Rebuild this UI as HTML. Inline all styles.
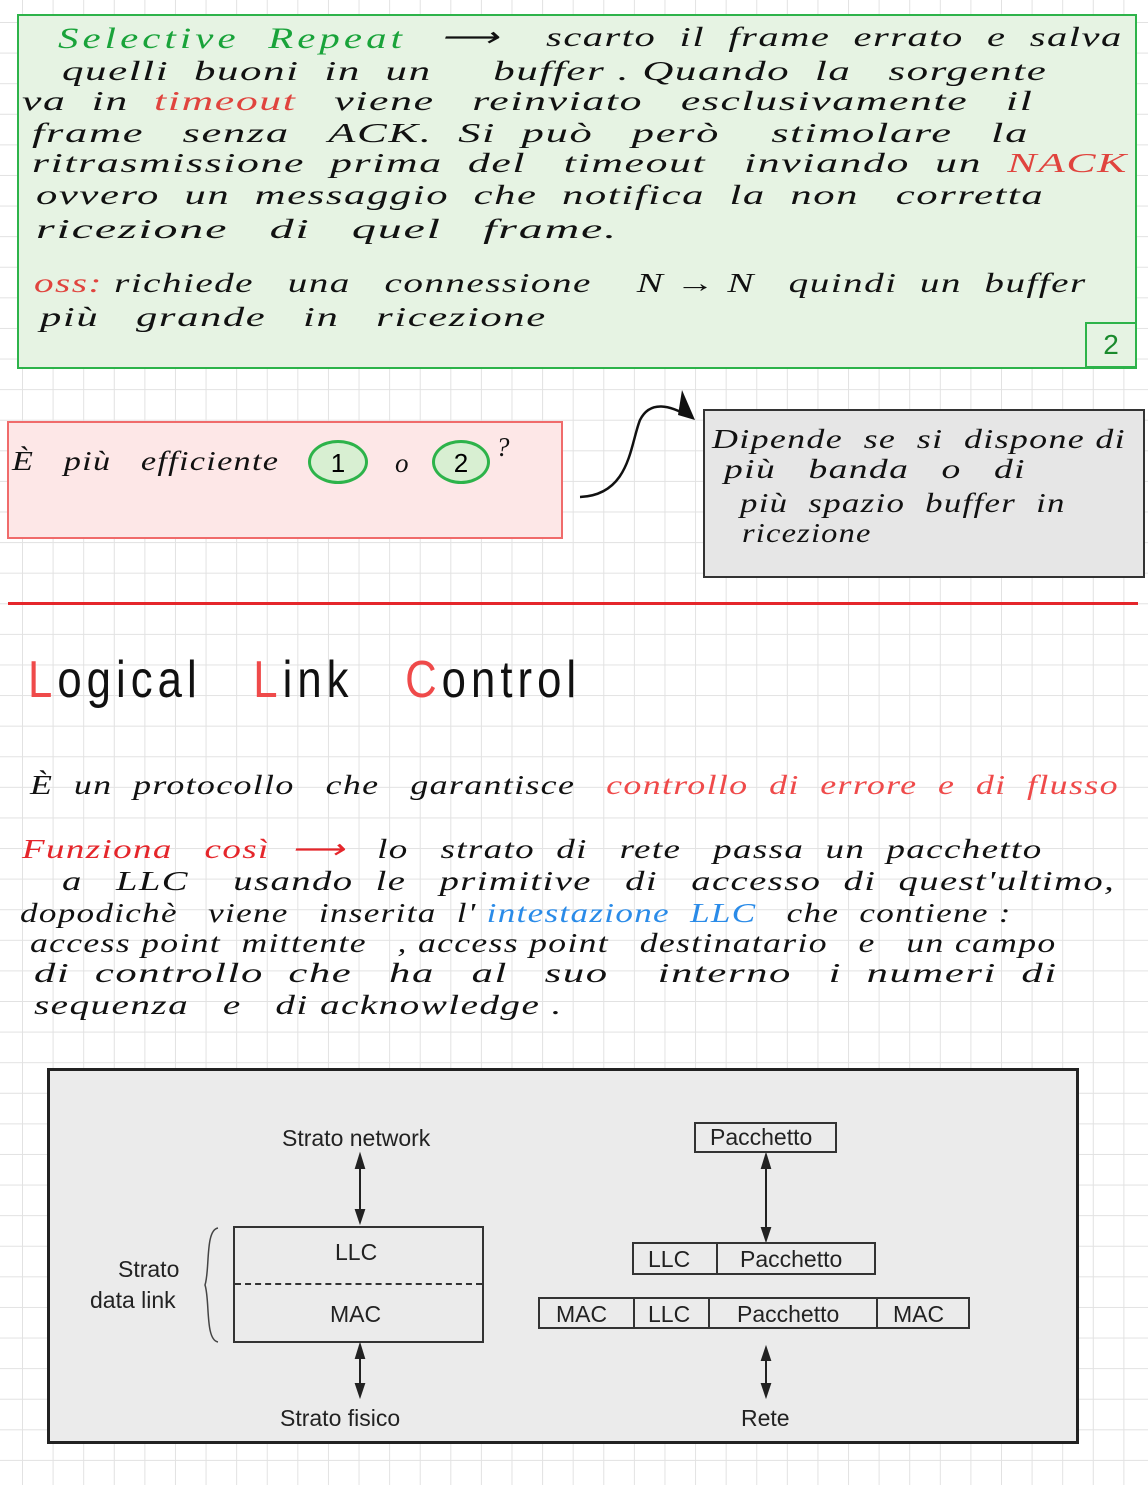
<!DOCTYPE html>
<html><head><meta charset="utf-8"><style>
html,body{margin:0;padding:0}
body{width:1148px;height:1485px;position:relative;overflow:hidden;background-color:#fff;
background-image:linear-gradient(to right,#e2e2e2 1px,transparent 1px),linear-gradient(to bottom,#e2e2e2 1px,transparent 1px);
background-size:30.6px 30.6px;background-position:22px 22px;font-family:"Liberation Sans",sans-serif}
.a{position:absolute}
.h{position:absolute;font-family:"Liberation Serif",serif;font-style:italic;font-size:27px;color:#111;white-space:nowrap;letter-spacing:1px;transform-origin:0 0}
.d{position:absolute;font-size:23px;color:#222;white-space:nowrap}
.bx{position:absolute;border:2px solid #333;box-sizing:border-box}
</style></head><body>
<!-- green box -->
<div class="a" style="left:17px;top:14px;width:1120px;height:355px;background:#e6f3e3;border:2px solid #2db34a;box-sizing:border-box"></div>
<div class="a" style="left:1085px;top:322px;width:52px;height:46px;border:2px solid #2db34a;box-sizing:border-box;color:#1a8a2d;font-size:28px;text-align:center;line-height:42px">2</div>
<div class="h" style="left:58px;top:22px;color:#19a33a;font-size:30px;letter-spacing:3px;transform:scaleX(1.36)">Selective&nbsp;&nbsp;Repeat</div>
<div class="h" style="left:440px;top:22px;transform:scaleX(1.5)">⟶&nbsp;&nbsp;&nbsp;&nbsp;scarto&nbsp;&nbsp;il&nbsp;&nbsp;frame&nbsp;&nbsp;errato&nbsp;&nbsp;e&nbsp;&nbsp;salva</div>
<div class="h" style="left:62px;top:56px;transform:scaleX(1.59)">quelli&nbsp;&nbsp;buoni&nbsp;&nbsp;in&nbsp;&nbsp;un&nbsp;&nbsp;&nbsp;&nbsp;&nbsp;buffer . Quando&nbsp;&nbsp;la&nbsp;&nbsp;&nbsp;sorgente</div>
<div class="h" style="left:22px;top:86px;transform:scaleX(1.62)">va&nbsp;&nbsp;in&nbsp;&nbsp;<span style="color:#e0443e">timeout</span>&nbsp;&nbsp;&nbsp;viene&nbsp;&nbsp;&nbsp;reinviato&nbsp;&nbsp;&nbsp;esclusivamente&nbsp;&nbsp;&nbsp;il</div>
<div class="h" style="left:32px;top:118px;transform:scaleX(1.65)">frame&nbsp;&nbsp;&nbsp;senza&nbsp;&nbsp;&nbsp;ACK.&nbsp;&nbsp;Si&nbsp;&nbsp;può&nbsp;&nbsp;&nbsp;però&nbsp;&nbsp;&nbsp;&nbsp;stimolare&nbsp;&nbsp;&nbsp;la</div>
<div class="h" style="left:32px;top:148px;transform:scaleX(1.62)">ritrasmissione&nbsp;&nbsp;prima&nbsp;&nbsp;del&nbsp;&nbsp;&nbsp;timeout&nbsp;&nbsp;&nbsp;inviando&nbsp;&nbsp;un&nbsp;&nbsp;<span style="color:#e0443e">NACK</span></div>
<div class="h" style="left:36px;top:180px;transform:scaleX(1.58)">ovvero&nbsp;&nbsp;un&nbsp;&nbsp;messaggio&nbsp;&nbsp;che&nbsp;&nbsp;notifica&nbsp;&nbsp;la&nbsp;&nbsp;non&nbsp;&nbsp;&nbsp;corretta</div>
<div class="h" style="left:36px;top:214px;transform:scaleX(1.78)">ricezione&nbsp;&nbsp;&nbsp;di&nbsp;&nbsp;&nbsp;quel&nbsp;&nbsp;&nbsp;frame.</div>
<div class="h" style="left:34px;top:268px;transform:scaleX(1.45)"><span style="color:#e0443e">oss:</span>&nbsp;richiede&nbsp;&nbsp;&nbsp;una&nbsp;&nbsp;&nbsp;connessione&nbsp;&nbsp;&nbsp;&nbsp;N → N&nbsp;&nbsp;&nbsp;quindi&nbsp;&nbsp;un&nbsp;&nbsp;buffer</div>
<div class="h" style="left:40px;top:302px;transform:scaleX(1.58)">più&nbsp;&nbsp;&nbsp;grande&nbsp;&nbsp;&nbsp;in&nbsp;&nbsp;&nbsp;ricezione</div>

<!-- red box -->
<div class="a" style="left:7px;top:421px;width:556px;height:118px;background:#fde7e7;border:2px solid #f06b6b;box-sizing:border-box"></div>
<div class="h" style="left:12px;top:446px;transform:scaleX(1.27)">È&nbsp;&nbsp;&nbsp;più&nbsp;&nbsp;&nbsp;efficiente</div>
<div class="a" style="left:308px;top:440px;width:60px;height:44px;border:3px solid #2db34a;border-radius:50%;background:#d8efd2;font-size:26px;text-align:center;line-height:40px;box-sizing:border-box">1</div>
<div class="h" style="left:395px;top:448px">o</div>
<div class="a" style="left:432px;top:440px;width:58px;height:44px;border:3px solid #2db34a;border-radius:50%;background:#d8efd2;font-size:26px;text-align:center;line-height:40px;box-sizing:border-box">2</div>
<div class="h" style="left:496px;top:432px">?</div>
<svg class="a" style="left:570px;top:385px" width="140" height="120"><path d="M10 112 C60 110,60 60,70 35 C80 15,100 20,120 32" fill="none" stroke="#111" stroke-width="2.5"/><path d="M112 5 L125 35 L108 30 Z" fill="#111"/></svg>
<!-- gray box -->
<div class="a" style="left:703px;top:409px;width:442px;height:169px;background:#e6e6e6;border:2px solid #333;box-sizing:border-box"></div>
<div class="h" style="left:712px;top:424px;transform:scaleX(1.33)">Dipende&nbsp;&nbsp;se&nbsp;&nbsp;si&nbsp;&nbsp;dispone&nbsp;di</div>
<div class="h" style="left:724px;top:454px;transform:scaleX(1.39)">più&nbsp;&nbsp;&nbsp;banda&nbsp;&nbsp;&nbsp;o&nbsp;&nbsp;&nbsp;di</div>
<div class="h" style="left:740px;top:488px;transform:scaleX(1.29)">più&nbsp;&nbsp;spazio&nbsp;&nbsp;buffer&nbsp;&nbsp;in</div>
<div class="h" style="left:742px;top:518px;transform:scaleX(1.2)">ricezione</div>

<div class="a" style="left:8px;top:602px;width:1130px;height:3px;background:#e5262b"></div>

<div class="a" style="left:28px;top:650px;font-size:52px;color:#111;white-space:nowrap;letter-spacing:6px;transform:scaleX(0.84);transform-origin:0 0"><span style="color:#ef4a4a">L</span>ogical&nbsp;&nbsp;&nbsp;<span style="color:#ef4a4a">L</span>ink&nbsp;&nbsp;&nbsp;<span style="color:#ef4a4a">C</span>ontrol</div>

<div class="h" style="left:30px;top:770px;transform:scaleX(1.33)">È&nbsp;&nbsp;un&nbsp;&nbsp;protocollo&nbsp;&nbsp;&nbsp;che&nbsp;&nbsp;&nbsp;garantisce&nbsp;&nbsp;&nbsp;<span style="color:#ef4a4a">controllo&nbsp;&nbsp;di&nbsp;&nbsp;errore&nbsp;&nbsp;e&nbsp;&nbsp;di&nbsp;&nbsp;flusso</span></div>
<div class="h" style="left:22px;top:834px;transform:scaleX(1.37)"><span style="color:#e5262b">Funziona&nbsp;&nbsp;&nbsp;così</span>&nbsp;&nbsp;<span style="color:#e5262b">⟶</span>&nbsp;&nbsp;&nbsp;lo&nbsp;&nbsp;&nbsp;strato&nbsp;&nbsp;di&nbsp;&nbsp;&nbsp;rete&nbsp;&nbsp;&nbsp;passa&nbsp;&nbsp;un&nbsp;&nbsp;pacchetto</div>
<div class="h" style="left:62px;top:866px;transform:scaleX(1.43)">a&nbsp;&nbsp;&nbsp;LLC&nbsp;&nbsp;&nbsp;&nbsp;usando&nbsp;&nbsp;le&nbsp;&nbsp;&nbsp;primitive&nbsp;&nbsp;&nbsp;di&nbsp;&nbsp;&nbsp;accesso&nbsp;&nbsp;di&nbsp;&nbsp;quest'ultimo,</div>
<div class="h" style="left:20px;top:898px;transform:scaleX(1.3)">dopodichè&nbsp;&nbsp;&nbsp;viene&nbsp;&nbsp;&nbsp;inserita&nbsp;&nbsp;l'&nbsp;<span style="color:#2a8be8">intestazione&nbsp;&nbsp;LLC</span>&nbsp;&nbsp;&nbsp;che&nbsp;&nbsp;contiene :</div>
<div class="h" style="left:30px;top:928px;transform:scaleX(1.32)">access point&nbsp;&nbsp;mittente&nbsp;&nbsp;&nbsp;, access point&nbsp;&nbsp;&nbsp;destinatario&nbsp;&nbsp;&nbsp;e&nbsp;&nbsp;&nbsp;un campo</div>
<div class="h" style="left:34px;top:958px;transform:scaleX(1.58)">di&nbsp;&nbsp;controllo&nbsp;&nbsp;che&nbsp;&nbsp;&nbsp;ha&nbsp;&nbsp;&nbsp;al&nbsp;&nbsp;&nbsp;suo&nbsp;&nbsp;&nbsp;&nbsp;interno&nbsp;&nbsp;&nbsp;i&nbsp;&nbsp;numeri&nbsp;&nbsp;di</div>
<div class="h" style="left:34px;top:990px;transform:scaleX(1.45)">sequenza&nbsp;&nbsp;&nbsp;e&nbsp;&nbsp;&nbsp;di&nbsp;acknowledge .</div>

<!-- diagram -->
<div class="a" style="left:47px;top:1068px;width:1032px;height:376px;background:#ebebeb;border:3px solid #222;box-sizing:border-box"></div>
<div class="d" style="left:282px;top:1125px">Strato network</div>
<div class="d" style="left:280px;top:1405px">Strato fisico</div>
<div class="d" style="left:741px;top:1405px">Rete</div>
<div class="d" style="left:118px;top:1256px">Strato</div>
<div class="d" style="left:90px;top:1287px">data link</div>
<div class="bx" style="left:233px;top:1226px;width:251px;height:117px"></div>
<div class="a" style="left:235px;top:1283px;width:247px;border-top:2px dashed #333"></div>
<div class="d" style="left:335px;top:1239px">LLC</div>
<div class="d" style="left:330px;top:1301px">MAC</div>
<svg class="a" style="left:0;top:0" width="1148" height="1485">
<path d="M218 1228 C205 1230,210 1270,205 1285 C210 1300,205 1340,218 1342" fill="none" stroke="#444" stroke-width="1.5"/>
<g stroke="#222" stroke-width="2" fill="#222">
<line x1="360" y1="1160" x2="360" y2="1218"/><path d="M356 1168 L360 1155 L364 1168Z"/><path d="M356 1210 L360 1222 L364 1210Z"/>
<line x1="360" y1="1350" x2="360" y2="1390"/><path d="M356 1358 L360 1345 L364 1358Z"/><path d="M356 1384 L360 1396 L364 1384Z"/>
<line x1="766" y1="1160" x2="766" y2="1236"/><path d="M762 1168 L766 1155 L770 1168Z"/><path d="M762 1228 L766 1240 L770 1228Z"/>
<line x1="766" y1="1352" x2="766" y2="1390"/><path d="M762 1360 L766 1348 L770 1360Z"/><path d="M762 1384 L766 1396 L770 1384Z"/>
</g></svg>
<div class="bx" style="left:694px;top:1122px;width:143px;height:31px"></div>
<div class="d" style="left:710px;top:1124px">Pacchetto</div>
<div class="bx" style="left:632px;top:1242px;width:244px;height:33px"></div>
<div class="a" style="left:716px;top:1242px;width:2px;height:33px;background:#333"></div>
<div class="d" style="left:648px;top:1246px">LLC</div>
<div class="d" style="left:740px;top:1246px">Pacchetto</div>
<div class="bx" style="left:538px;top:1297px;width:432px;height:32px"></div>
<div class="a" style="left:633px;top:1297px;width:2px;height:32px;background:#333"></div>
<div class="a" style="left:708px;top:1297px;width:2px;height:32px;background:#333"></div>
<div class="a" style="left:876px;top:1297px;width:2px;height:32px;background:#333"></div>
<div class="d" style="left:556px;top:1301px">MAC</div>
<div class="d" style="left:648px;top:1301px">LLC</div>
<div class="d" style="left:737px;top:1301px">Pacchetto</div>
<div class="d" style="left:893px;top:1301px">MAC</div>
</body></html>
